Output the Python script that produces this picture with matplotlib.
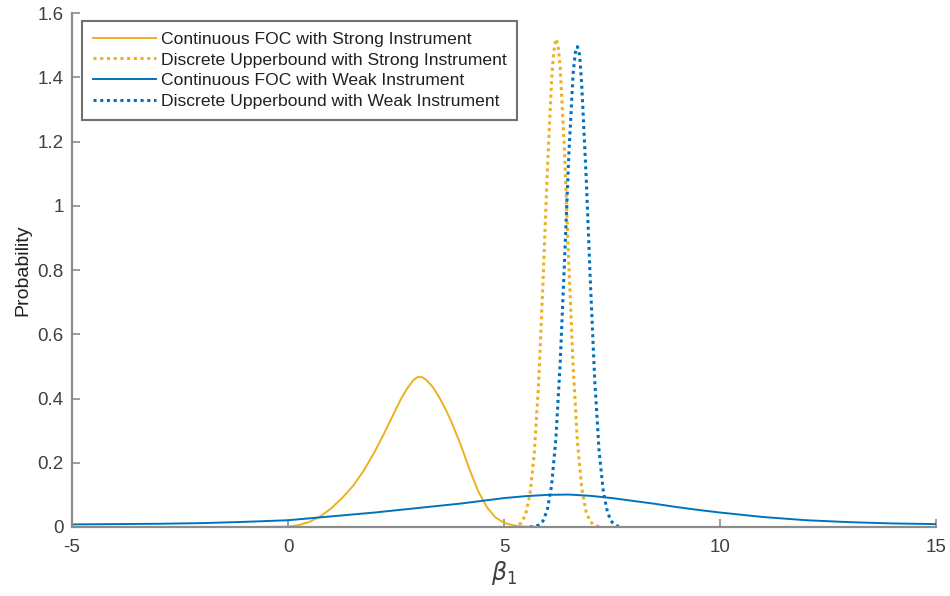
import matplotlib
matplotlib.use("Agg")
import matplotlib.pyplot as plt

plt.rcParams['font.family'] = ['Liberation Sans', 'DejaVu Sans']
plt.rcParams['axes.unicode_minus'] = False

# continuous FOC, strong instrument
x_cs = [-3, -2, -1, -0.5, 0, 0.25, 0.5, 0.75, 1.0, 1.25, 1.5, 1.75, 2.0, 2.2, 2.4, 2.6, 2.75,
        2.9, 3.0, 3.1, 3.2, 3.35, 3.5, 3.65, 3.8, 4.0, 4.2, 4.4, 4.6, 4.8, 5.0, 5.25, 5.5, 6.0]
y_cs = [0.000, 0.000, 0.000, 0.0003, 0.001, 0.006, 0.016, 0.033, 0.058, 0.090, 0.127, 0.175,
        0.233, 0.285, 0.340, 0.395, 0.430, 0.457, 0.467, 0.467, 0.458, 0.436, 0.404, 0.366,
        0.322, 0.255, 0.180, 0.112, 0.062, 0.030, 0.013, 0.004, 0.001, 0.000]

# discrete upper bound, strong instrument
x_ds = [5.2, 5.3, 5.4, 5.5, 5.6, 5.7, 5.8, 5.9, 6.0, 6.1, 6.15, 6.2, 6.25, 6.3, 6.4, 6.5,
        6.6, 6.7, 6.8, 6.9, 7.0, 7.1, 7.2]
y_ds = [0.001, 0.004, 0.013, 0.039, 0.101, 0.229, 0.446, 0.755, 1.10, 1.39, 1.48, 1.52, 1.50,
        1.43, 1.17, 0.82, 0.50, 0.264, 0.120, 0.047, 0.016, 0.005, 0.001]

# continuous FOC, weak instrument
x_cw = [-5, -4, -3, -2, -1, 0, 1, 2, 3, 4, 5, 5.5, 6, 6.5, 7, 7.5, 8, 8.5, 9, 9.5, 10,
        11, 12, 13, 14, 15]
y_cw = [0.008, 0.009, 0.010, 0.012, 0.016, 0.021, 0.033, 0.045, 0.059, 0.073, 0.090, 0.096,
        0.100, 0.101, 0.097, 0.090, 0.081, 0.072, 0.062, 0.053, 0.045, 0.031, 0.021, 0.015,
        0.011, 0.009]

# discrete upper bound, weak instrument
x_dw = [5.6, 5.7, 5.8, 5.9, 6.0, 6.1, 6.2, 6.3, 6.4, 6.5, 6.6, 6.65, 6.7, 6.75, 6.8, 6.9,
        7.0, 7.1, 7.2, 7.3, 7.4, 7.5, 7.6, 7.7]
y_dw = [0.000, 0.001, 0.006, 0.018, 0.052, 0.128, 0.274, 0.511, 0.826, 1.159, 1.413, 1.477,
        1.496, 1.470, 1.373, 1.095, 0.759, 0.456, 0.238, 0.108, 0.043, 0.015, 0.004, 0.001]

labels = ["Continuous FOC with Strong Instrument",
          "Discrete Upperbound with Strong Instrument",
          "Continuous FOC with Weak Instrument",
          "Discrete Upperbound with Weak Instrument"]

yellow = "#EDB120"
blue = "#0072BD"
axcol = "#8c8c8c"
txtcol = "#404040"

fig = plt.figure(figsize=(9.5, 5.96), dpi=100)
ax = fig.add_axes([0.0758, 0.1158, 0.9095, 0.862])

ax.plot(x_cs, y_cs, color=yellow, lw=1.4, label=labels[0])
ax.plot(x_ds, y_ds, color=yellow, lw=2.2, ls=(0, (1, 1.2)), label=labels[1])
ax.plot(x_cw, y_cw, color=blue, lw=1.4, label=labels[2])
ax.plot(x_dw, y_dw, color=blue, lw=2.2, ls=(0, (1, 1.2)), label=labels[3])

ax.set_xlim(-5, 15)
ax.set_ylim(0, 1.6)
ax.set_xticks([-5, 0, 5, 10, 15])
ax.set_yticks([0, 0.2, 0.4, 0.6, 0.8, 1, 1.2, 1.4, 1.6])
ax.set_yticklabels(["0", "0.2", "0.4", "0.6", "0.8", "1", "1.2", "1.4", "1.6"])

for s in ["top", "right"]:
    ax.spines[s].set_visible(False)
for s in ["left", "bottom"]:
    ax.spines[s].set_color(axcol)
    ax.spines[s].set_linewidth(1.6)
    ax.spines[s].set_zorder(5)
ax.tick_params(direction="in", length=6, width=1.2, color=axcol,
               labelsize=13.5, labelcolor=txtcol)
ax.tick_params(axis="x", pad=9)
ax.tick_params(axis="y", pad=6)

ax.set_xlabel(r"$\beta_1$", fontsize=17, color=txtcol, labelpad=2)
ax.set_ylabel("Probability", fontsize=14, color="#202020", labelpad=4)

leg = ax.legend(loc="upper left", bbox_to_anchor=(0.012, 0.985), borderaxespad=0,
                fontsize=12.6, fancybox=False, framealpha=1, edgecolor="#707070",
                handlelength=3.6, handletextpad=0.3, labelspacing=0.32,
                borderpad=0.6)
leg.get_frame().set_linewidth(1.5)
for t in leg.get_texts():
    t.set_color("#202020")

fig.savefig("out.png", dpi=100)
